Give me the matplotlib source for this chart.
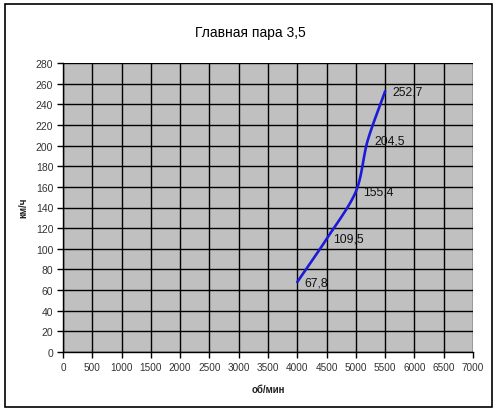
import numpy as np
import matplotlib
matplotlib.use("Agg")
import matplotlib.pyplot as plt
from matplotlib.patches import Rectangle

plt.rcParams['font.family'] = ['Liberation Sans', 'DejaVu Sans']

rpm = [4000, 4500, 5000, 5200, 5500]
speed = [67.8, 109.5, 155.4, 204.5, 252.7]
labels = ["67,8", "109,5", "155,4", "204,5", "252,7"]
title = "Главная пара 3,5"
xlabel = "об/мин"
ylabel = "км/ч"

def catmull_rom(x, y, n=30):
    x = np.asarray(x, float); y = np.asarray(y, float)
    px = np.concatenate([[2*x[0]-x[1]], x, [2*x[-1]-x[-2]]])
    py = np.concatenate([[2*y[0]-y[1]], y, [2*y[-1]-y[-2]]])
    xs, ys = [], []
    t = np.linspace(0, 1, n)
    for i in range(1, len(px)-2):
        p0, p1, p2, p3 = [np.array([px[j], py[j]]) for j in (i-1, i, i+1, i+2)]
        m1 = (p2 - p0) / 2 * 0.9
        m2 = (p3 - p1) / 2 * 0.9
        h00 = 2*t**3 - 3*t**2 + 1
        h10 = t**3 - 2*t**2 + t
        h01 = -2*t**3 + 3*t**2
        h11 = t**3 - t**2
        pts = (h00[:, None]*p1 + h10[:, None]*m1 + h01[:, None]*p2 + h11[:, None]*m2)
        xs.extend(pts[:, 0]); ys.extend(pts[:, 1])
    return np.array(xs), np.array(ys)

fig = plt.figure(figsize=(5.0, 4.14), dpi=100)
fig.patch.set_facecolor('white')
W, H = 500, 414
ax = fig.add_axes([63/W, 1-353/H, (473-63)/W, (353-64)/H])
ax.set_facecolor('#C0C0C0')

sx, sy = catmull_rom(rpm, speed)
ax.plot(sx, sy, color='#1C1CD8', lw=1.9, solid_capstyle='round')
for x, y, t in zip(rpm, speed, labels):
    ax.annotate(t, (x, y), xytext=(5, 0), textcoords='offset points',
                ha='left', va='center', fontsize=8.8, color='#111111')

ax.set_xlim(0, 7000)
ax.set_ylim(0, 280)
ax.set_xticks(np.arange(0, 7001, 500))
ax.set_yticks(np.arange(0, 281, 20))
ax.grid(True, color='black', lw=1.0)
ax.set_axisbelow(True)
ax.tick_params(direction='out', length=4, width=1, colors='black', labelsize=7.5, labelcolor='#333333', pad=3)
ax.tick_params(axis='x', labelsize=7.2)
for s in ax.spines.values():
    s.set_visible(False)
ax.spines['left'].set_visible(True)
ax.spines['bottom'].set_visible(True)
ax.spines['left'].set_linewidth(1.0)
ax.spines['bottom'].set_linewidth(1.0)

fig.text(250/W, 1-33/H, title, ha='center', va='center', fontsize=10)
fig.text(268/W, 1-390/H, xlabel, ha='center', va='center', fontsize=7, fontweight='bold', color='#222222')
fig.text(23/W, 1-208/H, ylabel, ha='center', va='center', rotation=90, fontsize=7, fontweight='bold', color='#222222')

fig.patches.append(Rectangle((5/W, 1-408/H), (492-5)/W, (408-5)/H, transform=fig.transFigure,
                             fill=False, edgecolor='black', lw=1.2))

fig.savefig('out.png', dpi=100, facecolor='white')
